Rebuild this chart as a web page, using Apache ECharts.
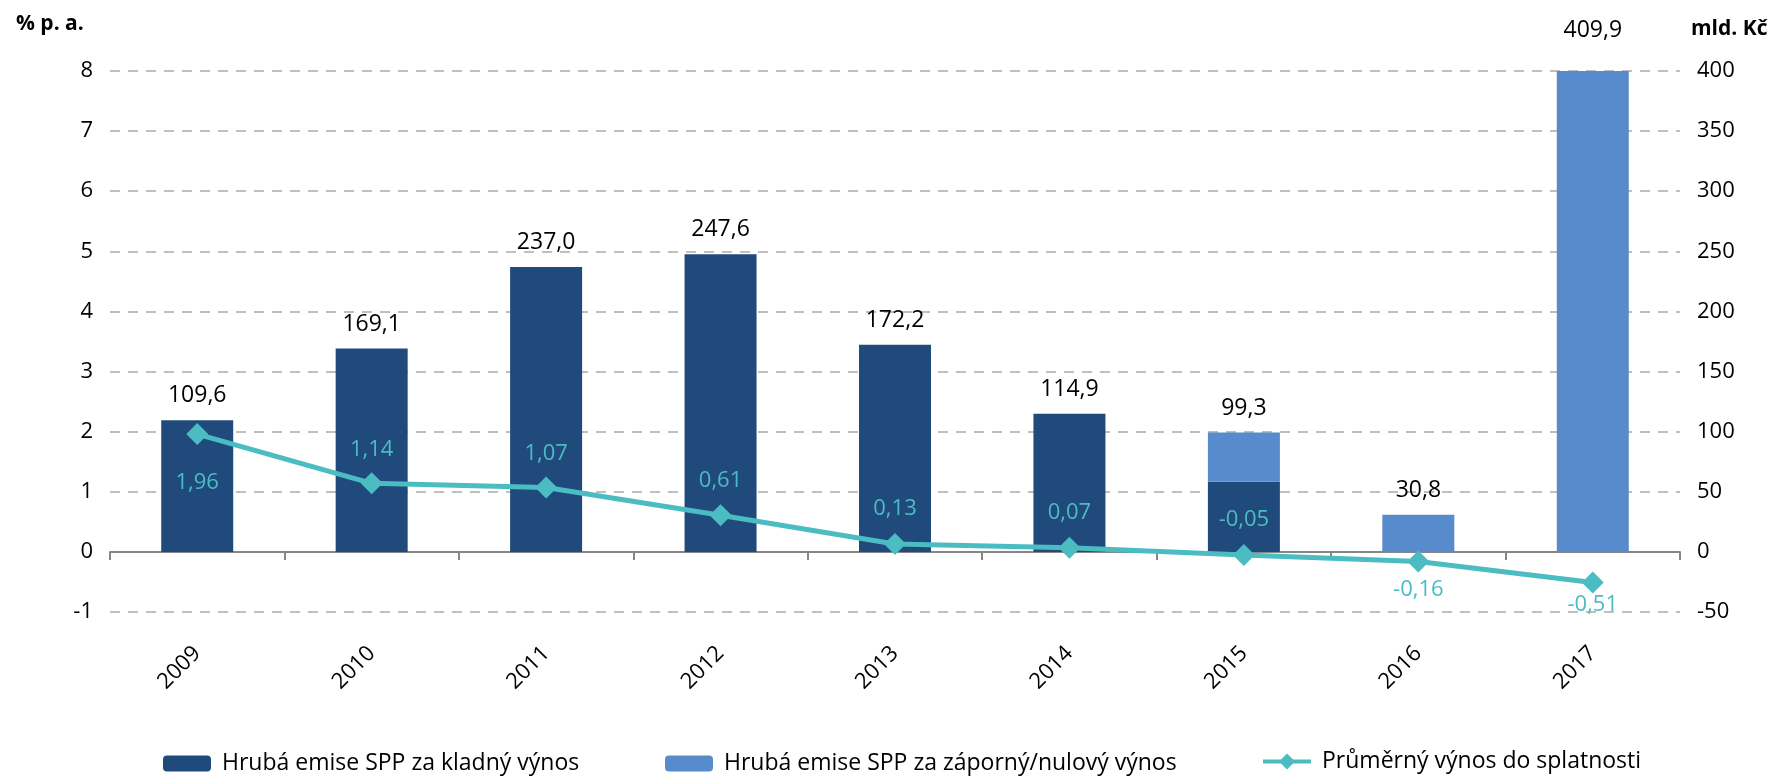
<!DOCTYPE html>
<html>
<head>
<meta charset="utf-8">
<script src="https://cdn.jsdelivr.net/npm/echarts@6/dist/echarts.min.js"></script>
<style>
  html, body { margin: 0; padding: 0; background: #fff; }
  #chart { width: 1771px; height: 778px; }
</style>
</head>
<body>
<div id="chart"></div>
<script>
  var years = ['2009', '2010', '2011', '2012', '2013', '2014', '2015', '2016', '2017'];
  // mld. Kč
  var issuePositive = [109.6, 169.1, 237.0, 247.6, 172.2, 114.9, 58.4, 0, 0];
  var issueNonPositive = [0, 0, 0, 0, 0, 0, 40.9, 30.8, 409.9];
  // % p. a.
  var avgYield = [1.96, 1.14, 1.07, 0.61, 0.13, 0.07, -0.05, -0.16, -0.51];
  var pctTicks = [-1, 8, 1];
  var kcTicks = [-50, 400, 50];

  var seriesNames = ['Hrubá emise SPP za kladný výnos', 'Hrubá emise SPP za záporný/nulový výnos', 'Průměrný výnos do splatnosti'];

  var darkBlue = '#204A7C';
  var lightBlue = '#588BCB';
  var teal = '#4BBCC2';
  var font = 'Open Sans';

  // where each yield label sits relative to its marker
  var yieldLabelPos = ['bottom', 'top', 'top', 'top', 'top', 'top', 'top', 'bottom', 'bottom'];
  var yieldLabelDist = [27, 12, 12, 12, 13, 13, 13, 6, 0];

  function comma(v, d) { return v.toFixed(d).replace('.', ','); }

  var totals = issuePositive.map(function(v, i) { return v + issueNonPositive[i]; });

  var chart = echarts.init(document.getElementById('chart'), null, { renderer: 'canvas' });

  var legendBase = {
    orient: 'horizontal',
    top: 747,
    itemWidth: 48,
    itemHeight: 16,
    textStyle: { fontFamily: font, fontSize: 23, color: '#000', padding: [0, 0, 0, 6] }
  };

  chart.setOption({
    animation: false,
    textStyle: { fontFamily: font },
    title: [
      { text: '% p. a.', left: 11, top: 9, textStyle: { fontFamily: font, fontSize: 21, fontWeight: 'bold', color: '#000' } },
      { text: 'mld. Kč', left: 1686, top: 14, textStyle: { fontFamily: font, fontSize: 21, fontWeight: 'bold', color: '#000' } }
    ],
    legend: [
      Object.assign({}, legendBase, { left: 158, data: [seriesNames[0]] }),
      Object.assign({}, legendBase, { left: 660, data: [seriesNames[1]] }),
      Object.assign({}, legendBase, {
        left: 1256, itemHeight: 20, top: 745,
        lineStyle: { width: 4 },
        data: [seriesNames[2]]
      })
    ],
    grid: { left: 110, right: 91, top: 71, bottom: 166 },
    xAxis: {
      type: 'category',
      data: years,
      boundaryGap: true,
      axisLine: { onZero: true, lineStyle: { color: '#868686', width: 2 } },
      axisTick: { show: true, length: 8, lineStyle: { color: '#868686', width: 2 } },
      axisLabel: { rotate: 45, margin: 38, fontSize: 22, color: '#000', fontFamily: font }
    },
    yAxis: [
      {
        type: 'value',
        min: pctTicks[0], max: pctTicks[1], interval: pctTicks[2],
        axisLine: { show: false },
        axisTick: { show: false },
        axisLabel: { margin: 17, fontSize: 22, color: '#000', fontFamily: font },
        splitLine: { lineStyle: { color: '#BFBFBF', width: 2, type: [10, 8] } }
      },
      {
        type: 'value',
        min: kcTicks[0], max: kcTicks[1], interval: kcTicks[2],
        axisLine: { show: false },
        axisTick: { show: false },
        axisLabel: { margin: 17, fontSize: 22, color: '#000', fontFamily: font },
        splitLine: { show: false }
      }
    ],
    series: [
      {
        name: seriesNames[0],
        type: 'bar',
        yAxisIndex: 1,
        stack: 'issue',
        barWidth: 72,
        itemStyle: { color: darkBlue },
        data: issuePositive
      },
      {
        name: seriesNames[1],
        type: 'bar',
        yAxisIndex: 1,
        stack: 'issue',
        barWidth: 72,
        itemStyle: { color: lightBlue },
        label: {
          show: true,
          position: 'top',
          distance: 13,
          fontSize: 23,
          color: '#000',
          fontFamily: font,
          formatter: function(p) { return comma(totals[p.dataIndex], 1); }
        },
        data: issueNonPositive.map(function(v, i) {
          // bar above the axis max is clipped; lift its label as in the original
          return i === issueNonPositive.length - 1 ? { value: v, label: { distance: 29 } } : v;
        })
      },
      {
        name: seriesNames[2],
        type: 'line',
        yAxisIndex: 0,
        symbol: 'diamond',
        symbolSize: 22,
        lineStyle: { color: teal, width: 5 },
        itemStyle: { color: teal },
        z: 5,
        data: avgYield.map(function(v, i) {
          return {
            value: v,
            label: { position: yieldLabelPos[i], distance: yieldLabelDist[i] }
          };
        }),
        label: {
          show: true,
          fontSize: 22,
          color: teal,
          fontFamily: font,
          formatter: function(p) { return comma(p.value, 2); }
        }
      }
    ]
  });
  window.addEventListener('resize', function() { chart.resize(); });
</script>
</body>
</html>
